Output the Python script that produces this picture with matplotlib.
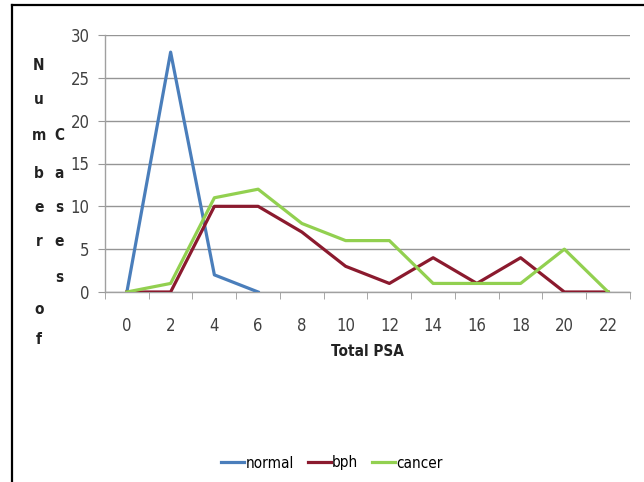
import matplotlib
matplotlib.use('Agg')
import matplotlib.pyplot as plt
from matplotlib.lines import Line2D

plt.rcParams['font.family'] = ['DejaVu Sans']
plt.rcParams['font.stretch'] = 'condensed'

# данные
x_normal = [0, 2, 4, 6]
normal = [0, 28, 2, 0]
x_psa = [0, 2, 4, 6, 8, 10, 12, 14, 16, 18, 20, 22]
bph = [0, 0, 10, 10, 7, 3, 1, 4, 1, 4, 0, 0]
cancer = [0, 1, 11, 12, 8, 6, 6, 1, 1, 1, 5, 0]
y_ticks = [0, 5, 10, 15, 20, 25, 30]

W, H = 644, 482
fig = plt.figure(figsize=(W / 100, H / 100), dpi=100)
ax = fig.add_axes([105 / W, 1 - 292 / H, (630 - 105) / W, (292 - 35) / H])

ax.plot(x_normal, normal, color='#4A7EBB', linewidth=2.3, label='normal', zorder=3)
ax.plot(x_psa, bph, color='#8B1A2E', linewidth=2.3, label='bph', zorder=3)
ax.plot(x_psa, cancer, color='#92D050', linewidth=2.3, label='cancer', zorder=4)

ax.set_xlim(-1, 23)
ax.set_ylim(0, 30)
ax.set_xticks(x_psa)
ax.set_xticks(range(-1, 24, 2), minor=True)
ax.set_yticks(y_ticks)
ax.tick_params(axis='x', which='major', length=0, pad=18, labelsize=12, labelcolor='#404040')
ax.tick_params(axis='x', which='minor', length=5, color='#999999', direction='out')
ax.tick_params(axis='y', length=5, color='#999999', pad=6, labelsize=12, labelcolor='#404040')

ax.grid(axis='y', color='#959595', linewidth=1)
ax.set_axisbelow(True)
for side in ['top', 'right']:
    ax.spines[side].set_visible(False)
for side in ['left', 'bottom']:
    ax.spines[side].set_color('#a0a0a0')
    ax.spines[side].set_linewidth(1)

fig.text(367 / W, 1 - 352 / H, 'Total PSA', ha='center', va='center',
         fontsize=11, fontweight='bold', color='#222222')

# подпись оси Y — буквы столбиками
col1 = [('N', 65), ('u', 100), ('m', 135), ('b', 173), ('e', 207), ('r', 242), ('o', 310), ('f', 340)]
col2 = [('C', 135), ('a', 173), ('s', 207), ('e', 242), ('s', 277)]
for ch, y in col1:
    fig.text(39 / W, 1 - y / H, ch, ha='center', va='center', fontsize=11, fontweight='bold', color='#222222')
for ch, y in col2:
    fig.text(59 / W, 1 - y / H, ch, ha='center', va='center', fontsize=11, fontweight='bold', color='#222222')

handles = [Line2D([], [], color='#4A7EBB', linewidth=2.3),
           Line2D([], [], color='#8B1A2E', linewidth=2.3),
           Line2D([], [], color='#92D050', linewidth=2.3)]
fig.legend(handles, ['normal', 'bph', 'cancer'], loc='center', ncol=3,
           bbox_to_anchor=(332 / W, 1 - 463 / H), frameon=False, fontsize=11,
           handlelength=1.5, handletextpad=0.1, columnspacing=0.9)

# рамка слева и сверху
fig.add_artist(Line2D([12 / W, 12 / W], [0, 1 - 5 / H], color='black', linewidth=1.6))
fig.add_artist(Line2D([12 / W, 1], [1 - 5 / H, 1 - 5 / H], color='black', linewidth=1.6))

fig.savefig('out.png', dpi=100)
